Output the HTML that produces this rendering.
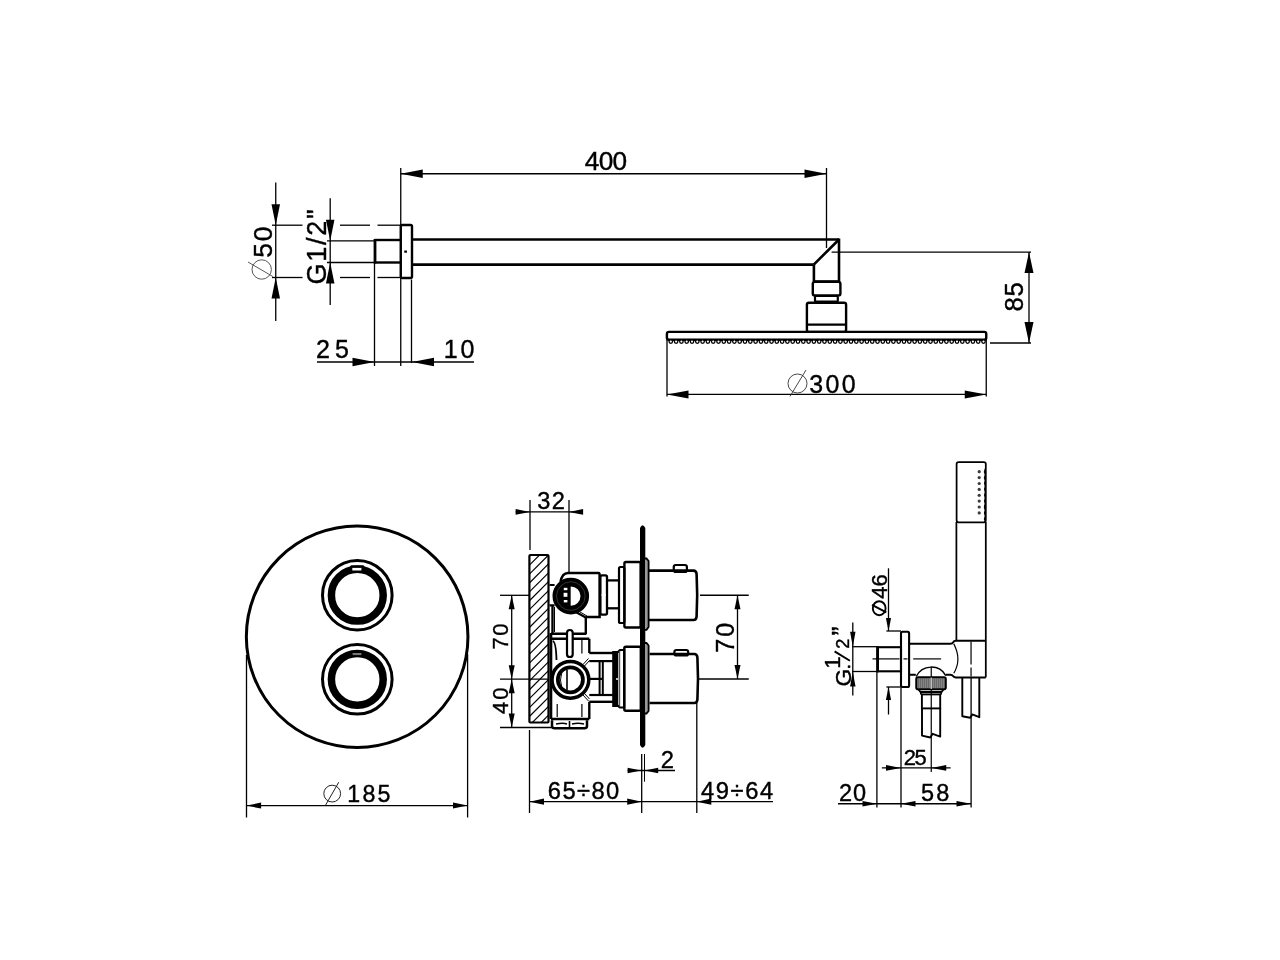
<!DOCTYPE html>
<html><head><meta charset="utf-8"><style>
html,body{margin:0;padding:0;background:#fff;}
svg{display:block;will-change:transform;}
text{font-family:"Liberation Sans", sans-serif;fill:#000;stroke:#000;stroke-width:0.4px;}
</style></head><body>
<svg width="1280" height="960" viewBox="0 0 1280 960" stroke="#000" fill="none">
<rect x="0" y="0" width="1280" height="960" fill="#fff" stroke="none"/>
<line x1="400.75" y1="173.75" x2="826.5" y2="173.75" stroke-width="1.3" />
<path d="M400.75 173.75 L422.75 169.50 L422.75 178.00 Z" fill="#000" stroke="none"/>
<path d="M826.50 173.75 L804.50 169.50 L804.50 178.00 Z" fill="#000" stroke="none"/>
<line x1="400.75" y1="168" x2="400.75" y2="366" stroke-width="1.3" />
<line x1="826.5" y1="168" x2="826.5" y2="248" stroke-width="1.3" />
<text x="0" y="0" font-size="26.23" letter-spacing="-0.70" transform="translate(584.82 169.52)" >400</text>
<rect x="400.75" y="225" width="11.25" height="53" rx="1.5" stroke-width="2.4" fill="none" />
<rect x="404.8" y="251" width="1.6" height="1.2" fill="#000"/>
<path d="M374.5 240 L400.75 240" stroke-width="2.4" fill="none" />
<path d="M374.5 262.5 L400.75 262.5" stroke-width="2.4" fill="none" />
<line x1="375" y1="239" x2="375" y2="263.5" stroke-width="2.8" />
<line x1="412" y1="239.5" x2="839" y2="239.5" stroke-width="2.6" />
<line x1="412" y1="264.6" x2="813.75" y2="264.6" stroke-width="2.6" />
<line x1="272" y1="225.2" x2="302.5" y2="225.2" stroke-width="1.3" />
<line x1="340" y1="225.2" x2="370" y2="225.2" stroke-width="1.3" />
<line x1="377.5" y1="225.2" x2="400" y2="225.2" stroke-width="1.3" />
<line x1="272" y1="277.5" x2="302.5" y2="277.5" stroke-width="1.3" />
<line x1="340" y1="277.5" x2="370" y2="277.5" stroke-width="1.3" />
<line x1="377.5" y1="277.5" x2="400" y2="277.5" stroke-width="1.3" />
<line x1="327" y1="240.8" x2="374" y2="240.8" stroke-width="1.3" />
<line x1="327" y1="262.5" x2="374" y2="262.5" stroke-width="1.3" />
<line x1="374.5" y1="263" x2="374.5" y2="366" stroke-width="1.3" />
<line x1="411.5" y1="279.5" x2="411.5" y2="363" stroke-width="1.3" />
<line x1="275.75" y1="182.5" x2="275.75" y2="321" stroke-width="1.3" />
<path d="M275.75 225.20 L271.50 204.20 L280.00 204.20 Z" fill="#000" stroke="none"/>
<path d="M275.75 277.50 L271.50 298.50 L280.00 298.50 Z" fill="#000" stroke="none"/>
<line x1="330.2" y1="198.3" x2="330.2" y2="305" stroke-width="1.3" />
<path d="M330.20 240.80 L325.95 219.80 L334.45 219.80 Z" fill="#000" stroke="none"/>
<path d="M330.20 262.50 L325.95 283.50 L334.45 283.50 Z" fill="#000" stroke="none"/>
<line x1="317" y1="362" x2="474" y2="362" stroke-width="1.3" />
<path d="M374.50 362.00 L352.50 357.75 L352.50 366.25 Z" fill="#000" stroke="none"/>
<path d="M412.00 362.00 L434.00 357.75 L434.00 366.25 Z" fill="#000" stroke="none"/>
<text x="0" y="0" font-size="25.02" letter-spacing="4.90" transform="translate(316.10 357.64)" >25</text>
<text x="0" y="0" font-size="25.02" letter-spacing="2.80" transform="translate(443.78 357.64)" >10</text>
<text x="0" y="0" font-size="26.48" letter-spacing="1.75" transform="translate(271.64 257.70) rotate(-90)" >50</text>
<ellipse cx="261.7" cy="269.5" rx="9.7" ry="9.7" stroke-width="0.9" stroke="#444" fill="none"/>
<line x1="248" y1="262" x2="272.8" y2="276.5" stroke-width="0.9" stroke="#444"/>
<text x="0" y="0" font-size="26.98" letter-spacing="1.75" transform="translate(326.46 284.50) rotate(-90)" >G1/2"</text>
<path d="M813.75 264.6 L839 239.5" stroke-width="2.6" fill="none" />
<line x1="839" y1="238.5" x2="839" y2="281.4" stroke-width="2.6" />
<line x1="813.9" y1="264.6" x2="813.9" y2="281.4" stroke-width="2.6" />
<line x1="813.9" y1="281.4" x2="839" y2="281.4" stroke-width="2.4" />
<rect x="812.8" y="281.9" width="27.600000000000023" height="13.5" rx="2" stroke-width="2.4" fill="none" />
<rect x="815" y="296" width="22.799999999999955" height="5.699999999999989" rx="1" stroke-width="2.2" fill="none" />
<rect x="806.9" y="302.7" width="39.200000000000045" height="29.19999999999999" rx="2" stroke-width="2.4" fill="none" />
<line x1="807" y1="324.6" x2="846" y2="324.6" stroke-width="2.4" />
<rect x="666.9" y="331.9" width="319.35" height="7.800000000000011" rx="2" stroke-width="2.4" fill="none" />
<circle cx="670.8" cy="341.6" r="1.75" stroke-width="1.3" fill="#fff"/><circle cx="676.1" cy="341.6" r="1.75" stroke-width="1.3" fill="#fff"/><circle cx="681.4" cy="341.6" r="1.75" stroke-width="1.3" fill="#fff"/><circle cx="686.7" cy="341.6" r="1.75" stroke-width="1.3" fill="#fff"/><circle cx="692.0" cy="341.6" r="1.75" stroke-width="1.3" fill="#fff"/><circle cx="697.3" cy="341.6" r="1.75" stroke-width="1.3" fill="#fff"/><circle cx="702.6" cy="341.6" r="1.75" stroke-width="1.3" fill="#fff"/><circle cx="707.9" cy="341.6" r="1.75" stroke-width="1.3" fill="#fff"/><circle cx="713.2" cy="341.6" r="1.75" stroke-width="1.3" fill="#fff"/><circle cx="718.5" cy="341.6" r="1.75" stroke-width="1.3" fill="#fff"/><circle cx="723.8" cy="341.6" r="1.75" stroke-width="1.3" fill="#fff"/><circle cx="729.1" cy="341.6" r="1.75" stroke-width="1.3" fill="#fff"/><circle cx="734.4" cy="341.6" r="1.75" stroke-width="1.3" fill="#fff"/><circle cx="739.7" cy="341.6" r="1.75" stroke-width="1.3" fill="#fff"/><circle cx="745.0" cy="341.6" r="1.75" stroke-width="1.3" fill="#fff"/><circle cx="750.3" cy="341.6" r="1.75" stroke-width="1.3" fill="#fff"/><circle cx="755.6" cy="341.6" r="1.75" stroke-width="1.3" fill="#fff"/><circle cx="760.9" cy="341.6" r="1.75" stroke-width="1.3" fill="#fff"/><circle cx="766.2" cy="341.6" r="1.75" stroke-width="1.3" fill="#fff"/><circle cx="771.5" cy="341.6" r="1.75" stroke-width="1.3" fill="#fff"/><circle cx="776.8" cy="341.6" r="1.75" stroke-width="1.3" fill="#fff"/><circle cx="782.1" cy="341.6" r="1.75" stroke-width="1.3" fill="#fff"/><circle cx="787.4" cy="341.6" r="1.75" stroke-width="1.3" fill="#fff"/><circle cx="792.7" cy="341.6" r="1.75" stroke-width="1.3" fill="#fff"/><circle cx="798.0" cy="341.6" r="1.75" stroke-width="1.3" fill="#fff"/><circle cx="803.3" cy="341.6" r="1.75" stroke-width="1.3" fill="#fff"/><circle cx="808.6" cy="341.6" r="1.75" stroke-width="1.3" fill="#fff"/><circle cx="813.9" cy="341.6" r="1.75" stroke-width="1.3" fill="#fff"/><circle cx="819.2" cy="341.6" r="1.75" stroke-width="1.3" fill="#fff"/><circle cx="824.5" cy="341.6" r="1.75" stroke-width="1.3" fill="#fff"/><circle cx="829.8" cy="341.6" r="1.75" stroke-width="1.3" fill="#fff"/><circle cx="835.1" cy="341.6" r="1.75" stroke-width="1.3" fill="#fff"/><circle cx="840.4" cy="341.6" r="1.75" stroke-width="1.3" fill="#fff"/><circle cx="845.7" cy="341.6" r="1.75" stroke-width="1.3" fill="#fff"/><circle cx="851.0" cy="341.6" r="1.75" stroke-width="1.3" fill="#fff"/><circle cx="856.3" cy="341.6" r="1.75" stroke-width="1.3" fill="#fff"/><circle cx="861.6" cy="341.6" r="1.75" stroke-width="1.3" fill="#fff"/><circle cx="866.9" cy="341.6" r="1.75" stroke-width="1.3" fill="#fff"/><circle cx="872.2" cy="341.6" r="1.75" stroke-width="1.3" fill="#fff"/><circle cx="877.5" cy="341.6" r="1.75" stroke-width="1.3" fill="#fff"/><circle cx="882.8" cy="341.6" r="1.75" stroke-width="1.3" fill="#fff"/><circle cx="888.1" cy="341.6" r="1.75" stroke-width="1.3" fill="#fff"/><circle cx="893.4" cy="341.6" r="1.75" stroke-width="1.3" fill="#fff"/><circle cx="898.7" cy="341.6" r="1.75" stroke-width="1.3" fill="#fff"/><circle cx="904.0" cy="341.6" r="1.75" stroke-width="1.3" fill="#fff"/><circle cx="909.3" cy="341.6" r="1.75" stroke-width="1.3" fill="#fff"/><circle cx="914.6" cy="341.6" r="1.75" stroke-width="1.3" fill="#fff"/><circle cx="919.9" cy="341.6" r="1.75" stroke-width="1.3" fill="#fff"/><circle cx="925.2" cy="341.6" r="1.75" stroke-width="1.3" fill="#fff"/><circle cx="930.5" cy="341.6" r="1.75" stroke-width="1.3" fill="#fff"/><circle cx="935.8" cy="341.6" r="1.75" stroke-width="1.3" fill="#fff"/><circle cx="941.1" cy="341.6" r="1.75" stroke-width="1.3" fill="#fff"/><circle cx="946.4" cy="341.6" r="1.75" stroke-width="1.3" fill="#fff"/><circle cx="951.7" cy="341.6" r="1.75" stroke-width="1.3" fill="#fff"/><circle cx="957.0" cy="341.6" r="1.75" stroke-width="1.3" fill="#fff"/><circle cx="962.3" cy="341.6" r="1.75" stroke-width="1.3" fill="#fff"/><circle cx="967.6" cy="341.6" r="1.75" stroke-width="1.3" fill="#fff"/><circle cx="972.9" cy="341.6" r="1.75" stroke-width="1.3" fill="#fff"/><circle cx="978.2" cy="341.6" r="1.75" stroke-width="1.3" fill="#fff"/><circle cx="983.5" cy="341.6" r="1.75" stroke-width="1.3" fill="#fff"/>
<line x1="831.6" y1="252.1" x2="1031" y2="252.1" stroke-width="1.3" />
<line x1="990" y1="343" x2="1031" y2="343" stroke-width="1.3" />
<line x1="1029" y1="252.1" x2="1029" y2="343" stroke-width="1.3" />
<path d="M1029.00 252.10 L1024.50 273.10 L1033.50 273.10 Z" fill="#000" stroke="none"/>
<path d="M1029.00 343.00 L1024.50 322.00 L1033.50 322.00 Z" fill="#000" stroke="none"/>
<text x="0" y="0" font-size="25.69" letter-spacing="0.70" transform="translate(1023.29 311.60) rotate(-90)" >85</text>
<line x1="667" y1="340" x2="667" y2="396.4" stroke-width="1.3" />
<line x1="986.25" y1="340" x2="986.25" y2="396.4" stroke-width="1.3" />
<line x1="667" y1="394.4" x2="986.25" y2="394.4" stroke-width="1.3" />
<path d="M667.00 394.40 L688.50 390.40 L688.50 398.40 Z" fill="#000" stroke="none"/>
<path d="M986.25 394.40 L964.75 390.40 L964.75 398.40 Z" fill="#000" stroke="none"/>
<ellipse cx="797.5" cy="383.5" rx="9.5" ry="9.5" stroke-width="0.9" stroke="#333" fill="none"/>
<line x1="806" y1="370" x2="790" y2="396.4" stroke-width="0.9" stroke="#333"/>
<text x="0" y="0" font-size="24.94" letter-spacing="2.45" transform="translate(809.14 392.68)" >300</text>
<circle cx="357.15" cy="636.7" r="110.8" stroke-width="3" fill="none"/>
<circle cx="357.3" cy="595.2" r="34.8" stroke-width="3" fill="none"/>
<circle cx="357.3" cy="595.2" r="25.9" stroke-width="7.5" fill="none"/>
<circle cx="357.3" cy="679.3" r="34.8" stroke-width="3" fill="none"/>
<circle cx="357.3" cy="679.3" r="25.9" stroke-width="7.5" fill="none"/>
<path d="M349.5 567.5 L351 565.2 L363.5 565.2 L365 567.5 Z" fill="#000" stroke="none"/>
<rect x="352.3" y="567.9" width="9.1" height="2.6" fill="#fff" stroke="none"/>
<rect x="352.6" y="653" width="8.8" height="2.1" fill="#777" stroke="none"/>
<line x1="246.5" y1="655" x2="246.5" y2="817.5" stroke-width="1.3" />
<line x1="467.6" y1="654" x2="467.6" y2="817.5" stroke-width="1.3" />
<line x1="246.5" y1="805.6" x2="467.6" y2="805.6" stroke-width="1.3" />
<path d="M246.50 805.60 L261.10 802.60 L261.10 808.60 Z" fill="#000" stroke="none"/>
<path d="M467.60 805.60 L453.00 802.60 L453.00 808.60 Z" fill="#000" stroke="none"/>
<ellipse cx="332.2" cy="793.6" rx="8.4" ry="8.4" stroke-width="1.0" stroke="#222" fill="none"/>
<line x1="338.75" y1="782.2" x2="325.3" y2="805.6" stroke-width="1.0" stroke="#222"/>
<text x="0" y="0" font-size="23.20" letter-spacing="2.28" transform="translate(347.21 801.94)" >185</text>
<line x1="515.6" y1="511.9" x2="583" y2="511.9" stroke-width="1.3" />
<path d="M530.00 511.90 L515.60 509.10 L515.60 514.70 Z" fill="#000" stroke="none"/>
<path d="M568.75 511.90 L583.15 509.10 L583.15 514.70 Z" fill="#000" stroke="none"/>
<line x1="530" y1="500" x2="530" y2="550" stroke-width="1.3" />
<line x1="569" y1="500" x2="569" y2="572" stroke-width="1.3" />
<text x="0" y="0" font-size="23.60" letter-spacing="1.40" transform="translate(537.30 508.69)" >32</text>
<clipPath id="hb"><rect x="529.4" y="555" width="19.1" height="167.5"/></clipPath>
<g clip-path="url(#hb)"><line x1="529.4" y1="547.4" x2="548.5" y2="528.3" stroke-width="1.2"/><line x1="529.4" y1="556.3" x2="548.5" y2="537.2" stroke-width="1.2"/><line x1="529.4" y1="565.2" x2="548.5" y2="546.1" stroke-width="1.2"/><line x1="529.4" y1="574.1" x2="548.5" y2="555.0" stroke-width="1.2"/><line x1="529.4" y1="583.0" x2="548.5" y2="563.9" stroke-width="1.2"/><line x1="529.4" y1="591.9" x2="548.5" y2="572.8" stroke-width="1.2"/><line x1="529.4" y1="600.8" x2="548.5" y2="581.7" stroke-width="1.2"/><line x1="529.4" y1="609.7" x2="548.5" y2="590.6" stroke-width="1.2"/><line x1="529.4" y1="618.6" x2="548.5" y2="599.5" stroke-width="1.2"/><line x1="529.4" y1="627.5" x2="548.5" y2="608.4" stroke-width="1.2"/><line x1="529.4" y1="636.4" x2="548.5" y2="617.3" stroke-width="1.2"/><line x1="529.4" y1="645.3" x2="548.5" y2="626.2" stroke-width="1.2"/><line x1="529.4" y1="654.2" x2="548.5" y2="635.1" stroke-width="1.2"/><line x1="529.4" y1="663.1" x2="548.5" y2="644.0" stroke-width="1.2"/><line x1="529.4" y1="672.0" x2="548.5" y2="652.9" stroke-width="1.2"/><line x1="529.4" y1="680.9" x2="548.5" y2="661.8" stroke-width="1.2"/><line x1="529.4" y1="689.8" x2="548.5" y2="670.7" stroke-width="1.2"/><line x1="529.4" y1="698.7" x2="548.5" y2="679.6" stroke-width="1.2"/><line x1="529.4" y1="707.6" x2="548.5" y2="688.5" stroke-width="1.2"/><line x1="529.4" y1="716.5" x2="548.5" y2="697.4" stroke-width="1.2"/><line x1="529.4" y1="725.4" x2="548.5" y2="706.3" stroke-width="1.2"/><line x1="529.4" y1="734.3" x2="548.5" y2="715.2" stroke-width="1.2"/><line x1="529.4" y1="743.2" x2="548.5" y2="724.1" stroke-width="1.2"/><line x1="529.4" y1="752.1" x2="548.5" y2="733.0" stroke-width="1.2"/><line x1="529.4" y1="761.0" x2="548.5" y2="741.9" stroke-width="1.2"/></g>
<rect x="529.4" y="555" width="19.100000000000023" height="167.5" rx="1" stroke-width="2.2" fill="none" />
<path d="M640 528 Q642.6 522.5 645.3 528 L645.3 745 Q642.6 750.5 640 745 Z" fill="#000" stroke="none"/>
<path d="M645 558.5 L646.5 558.5 L648.6 561 L648.6 627 L646.5 629.8 L645 629.8" stroke-width="1.8" fill="#999"/>
<path d="M645 643 L646.5 643 L648.6 645.5 L648.6 711 L646.5 713.5 L645 713.5" stroke-width="1.8" fill="#999"/>
<path d="M560.5 582 Q562 573 568 572.9 L598.75 572.9 Q599.6 573 599.6 575 L599.6 617 L585.8 617" stroke-width="2.5" fill="none"/>
<line x1="575.8" y1="612" x2="585.8" y2="617.5" stroke-width="2.2" />
<line x1="577.5" y1="610.5" x2="587" y2="616" stroke-width="1.0" />
<line x1="585.8" y1="617" x2="585.8" y2="634" stroke-width="2.4" />
<line x1="552.5" y1="605.5" x2="552.5" y2="634" stroke-width="2.4" />
<line x1="554.5" y1="607" x2="554.5" y2="632" stroke-width="1.0" />
<path d="M554.6 585 L549.5 585 M549.5 605.4 L554.6 605.4" stroke-width="2.2"/>
<path d="M556 587 Q551 595.2 556 603.5" stroke-width="1.2" fill="none"/>
<circle cx="570.8" cy="596.1" r="14.0" stroke-width="8.6" fill="none"/>
<circle cx="570.8" cy="596.1" r="14.3" stroke-width="0.6" stroke="#555" fill="none"/>
<path d="M570.2 586 A10.1 10.1 0 0 0 570.2 606.2 Z" fill="#000" stroke="none"/>
<rect x="563.8" y="587.8" width="3.6" height="2.4" fill="#fff" stroke="none"/>
<rect x="563.6" y="592.8" width="3.8" height="4" fill="#fff" stroke="none"/>
<rect x="563.8" y="600" width="3.6" height="2.4" fill="#fff" stroke="none"/>
<line x1="569.6" y1="585" x2="569.6" y2="606" stroke-width="2" />
<rect x="600.4" y="575.4" width="6.600000000000023" height="39.200000000000045" rx="1.5" stroke-width="2.3" fill="none" />
<rect x="601.5" y="594.3" width="4.4" height="1.5" fill="#fff" stroke="none"/>
<line x1="607" y1="580.4" x2="618.5" y2="580.4" stroke-width="2.3" />
<line x1="607" y1="608.3" x2="618.5" y2="608.3" stroke-width="2.3" />
<rect x="619" y="567" width="5.399999999999977" height="56" rx="1.5" stroke-width="2.2" fill="none" />
<rect x="624.4" y="562" width="16.200000000000045" height="65.5" rx="1.5" stroke-width="2.4" fill="none" />
<path d="M648.75 570.6 L693.5 570.6 Q696.25 570.6 696.6 574 Q697.8 595.3 696.6 616.6 Q696.25 620 693.5 620 L648.75 620" stroke-width="2.6" fill="none"/>
<rect x="673.75" y="565" width="13.149999999999977" height="7" rx="2" stroke-width="2.2" fill="none" />
<line x1="675" y1="572" x2="686" y2="572" stroke-width="1.6" />
<line x1="550.9" y1="633.8" x2="586.4" y2="633.8" stroke-width="2.4" />
<line x1="550.9" y1="638.8" x2="589.3" y2="638.8" stroke-width="2.6" />
<line x1="589.3" y1="638.8" x2="589.3" y2="653" stroke-width="2.4" />
<line x1="589.3" y1="701.8" x2="589.3" y2="719" stroke-width="2.4" />
<line x1="550.9" y1="633" x2="550.9" y2="719" stroke-width="2.8" />
<line x1="550.9" y1="719" x2="589.3" y2="719" stroke-width="2.6" />
<path d="M552.8 641 Q556 642 556.5 660" stroke-width="1.8" fill="none"/>
<line x1="581.9" y1="640" x2="581.9" y2="653.5" stroke-width="1.2" />
<line x1="557.2" y1="704" x2="557.2" y2="717" stroke-width="1.2" />
<line x1="581.9" y1="704" x2="581.9" y2="717" stroke-width="1.2" />
<rect x="567" y="630" width="5.7000000000000455" height="27" rx="2.8" stroke-width="2.2" fill="#fff" />
<circle cx="570.4" cy="679.8" r="18.4" stroke-width="3.5" fill="#fff"/>
<circle cx="570.4" cy="679.8" r="12.5" stroke-width="3.8" fill="none"/>
<line x1="567" y1="669.5" x2="567" y2="690" stroke-width="1.6" />
<path d="M562 671 Q559 680 562 689" stroke-width="1" fill="none"/>
<line x1="584.5" y1="666" x2="589.5" y2="660.5" stroke-width="1.0" />
<line x1="583" y1="664.5" x2="588.5" y2="658.5" stroke-width="1.0" />
<line x1="584.5" y1="693.5" x2="589.5" y2="699" stroke-width="1.0" />
<line x1="583" y1="695" x2="588.5" y2="701" stroke-width="1.0" />
<line x1="589.3" y1="653" x2="613.4" y2="653" stroke-width="2.4" />
<line x1="589.3" y1="661.1" x2="613.4" y2="661.1" stroke-width="2.2" />
<line x1="589.3" y1="695" x2="613.4" y2="695" stroke-width="2.2" />
<line x1="589.3" y1="701.8" x2="613.4" y2="701.8" stroke-width="2.4" />
<line x1="599.6" y1="662" x2="599.6" y2="694" stroke-width="2.0" />
<line x1="602.8" y1="662" x2="602.8" y2="694" stroke-width="2.0" />
<line x1="590" y1="678.9" x2="602.5" y2="678.9" stroke-width="2.2" />
<path d="M613.3 652 L618 652 L620 650 L624.2 650 L624.2 707.5 L620 707.5 L618 705.8 L613.3 705.8 Z" fill="#fff" stroke="#000" stroke-width="2.2"/>
<rect x="613.3" y="652" width="5" height="53.8" fill="#000" stroke="none"/>
<line x1="619.6" y1="651" x2="619.6" y2="706.5" stroke-width="1.2" stroke="#555"/>
<circle cx="617" cy="679" r="1.0" fill="#fff" stroke="none"/>
<rect x="624.3" y="646.8" width="16.5" height="64.0" rx="1.5" stroke-width="2.4" fill="none" />
<path d="M649.6 654 L694.3 654 Q697 654 697.4 657.4 Q698.6 678.5 697.4 699.6 Q697 703 694.3 703 L649.6 703" stroke-width="2.6" fill="none"/>
<rect x="674.4" y="650" width="13.800000000000068" height="5.5" rx="2" stroke-width="2.2" fill="none" />
<path d="M552 720.2 L552 726 Q552 728.2 554.5 728.2 L584.5 728.2 Q587 728.2 587 726 L587 720.2" stroke-width="2.5" fill="none"/>
<path d="M556 724 Q563 722.5 567 724 M572 724 Q578 722.5 584 724" stroke-width="1.6" fill="none"/>
<line x1="569.5" y1="721" x2="569.5" y2="728" stroke-width="1.6" />
<line x1="511.7" y1="595.3" x2="511.7" y2="727.5" stroke-width="1.3" />
<line x1="500" y1="595.3" x2="530" y2="595.3" stroke-width="1.3" />
<line x1="500" y1="679.2" x2="548" y2="679.2" stroke-width="1.3" />
<line x1="500" y1="727.5" x2="553" y2="727.5" stroke-width="1.3" />
<path d="M511.70 595.30 L508.70 609.30 L514.70 609.30 Z" fill="#000" stroke="none"/>
<path d="M511.70 679.20 L508.70 665.20 L514.70 665.20 Z" fill="#000" stroke="none"/>
<path d="M511.70 679.20 L508.70 693.20 L514.70 693.20 Z" fill="#000" stroke="none"/>
<path d="M511.70 727.50 L508.70 713.50 L514.70 713.50 Z" fill="#000" stroke="none"/>
<text x="0" y="0" font-size="21.99" letter-spacing="1.40" transform="translate(507.50 649.50) rotate(-90)" >70</text>
<text x="0" y="0" font-size="21.99" letter-spacing="2.10" transform="translate(507.50 714.06) rotate(-90)" >40</text>
<line x1="737.5" y1="595.25" x2="737.5" y2="679" stroke-width="1.3" />
<line x1="700" y1="595.25" x2="748.75" y2="595.25" stroke-width="1.3" />
<line x1="698" y1="679" x2="748.75" y2="679" stroke-width="1.3" />
<path d="M737.50 595.25 L734.50 609.25 L740.50 609.25 Z" fill="#000" stroke="none"/>
<path d="M737.50 679.00 L734.50 665.00 L740.50 665.00 Z" fill="#000" stroke="none"/>
<text x="0" y="0" font-size="25.14" letter-spacing="2.10" transform="translate(733.88 652.78) rotate(-90)" >70</text>
<line x1="529.5" y1="730" x2="529.5" y2="813" stroke-width="1.3" />
<line x1="641.7" y1="754" x2="641.7" y2="813" stroke-width="1.3" />
<line x1="696.8" y1="703" x2="696.8" y2="813" stroke-width="1.3" />
<line x1="529.5" y1="801.7" x2="773" y2="801.7" stroke-width="1.3" />
<path d="M529.50 801.70 L544.00 798.55 L544.00 804.85 Z" fill="#000" stroke="none"/>
<path d="M641.70 801.70 L627.20 798.55 L627.20 804.85 Z" fill="#000" stroke="none"/>
<path d="M696.80 801.70 L711.30 798.55 L711.30 804.85 Z" fill="#000" stroke="none"/>
<line x1="644.5" y1="754" x2="644.5" y2="781.7" stroke-width="1.0" />
<line x1="627.6" y1="770.5" x2="675" y2="770.5" stroke-width="1.3" />
<path d="M641.30 770.50 L627.60 767.70 L627.60 773.30 Z" fill="#000" stroke="none"/>
<path d="M644.50 770.50 L658.20 767.70 L658.20 773.30 Z" fill="#000" stroke="none"/>
<text x="0" y="0" font-size="23.74" transform="translate(660.68 768.00)" >2</text>
<text x="0" y="0" font-size="23.74" letter-spacing="1.40" transform="translate(547.86 799.04)" >65&#247;80</text>
<text x="0" y="0" font-size="23.74" letter-spacing="1.58" transform="translate(701.00 799.04)" >49&#247;64</text>
<rect x="956.6" y="462" width="29.199999999999932" height="60.299999999999955" rx="2" stroke-width="1.75" fill="none" />
<line x1="956.4" y1="522" x2="956.4" y2="641" stroke-width="1.75" />
<line x1="985.8" y1="522" x2="985.8" y2="677.4" stroke-width="1.75" />
<circle cx="979.2" cy="471.7" r="1.6" fill="#3a3a3a" stroke="none"/><circle cx="979.2" cy="477.6" r="1.6" fill="#3a3a3a" stroke="none"/><circle cx="979.2" cy="483.5" r="1.6" fill="#3a3a3a" stroke="none"/><circle cx="979.2" cy="489.4" r="1.6" fill="#3a3a3a" stroke="none"/><circle cx="979.2" cy="495.3" r="1.6" fill="#3a3a3a" stroke="none"/><circle cx="979.2" cy="501.1" r="1.6" fill="#3a3a3a" stroke="none"/><circle cx="979.2" cy="507.0" r="1.6" fill="#3a3a3a" stroke="none"/><circle cx="979.2" cy="512.9" r="1.6" fill="#3a3a3a" stroke="none"/>
<path d="M985.2 468.8 q-1.6 2.9 0 5.8" stroke-width="1.1" fill="none"/><path d="M985.2 474.7 q-1.6 2.9 0 5.8" stroke-width="1.1" fill="none"/><path d="M985.2 480.6 q-1.6 2.9 0 5.8" stroke-width="1.1" fill="none"/><path d="M985.2 486.5 q-1.6 2.9 0 5.8" stroke-width="1.1" fill="none"/><path d="M985.2 492.4 q-1.6 2.9 0 5.8" stroke-width="1.1" fill="none"/><path d="M985.2 498.2 q-1.6 2.9 0 5.8" stroke-width="1.1" fill="none"/><path d="M985.2 504.1 q-1.6 2.9 0 5.8" stroke-width="1.1" fill="none"/><path d="M985.2 510.0 q-1.6 2.9 0 5.8" stroke-width="1.1" fill="none"/><path d="M985.2 515.9 q-1.6 2.9 0 5.8" stroke-width="1.1" fill="none"/>
<path d="M909.1 643.7 L950.5 643.7 Q952.5 643.7 953.2 642.3 Q954 640.8 955.8 640.8 L985.8 640.8" stroke-width="2" fill="none"/>
<path d="M909.1 674.8 L915.8 674.8 M945.9 674.8 L950.3 674.8 Q952.2 674.8 953 676.1 Q953.8 677.4 955.6 677.4 L985.8 677.4" stroke-width="2" fill="none"/>
<path d="M953.8 643.9 Q962 659.6 953.8 673.3" stroke-width="1.2" fill="none"/>
<line x1="971.05" y1="641.5" x2="971.05" y2="664.5" stroke-width="1.2" />
<line x1="971.05" y1="667.5" x2="971.05" y2="676.5" stroke-width="1.2" />
<path d="M962.3 677.4 L962.3 716.3 L970.2 717.8 L972.3 714.4 L979.3 717.2 L979.3 677.4" stroke-width="1.9" fill="none" stroke-linejoin="round"/>
<line x1="971.1" y1="677.4" x2="971.1" y2="807.5" stroke-width="1.3" />
<path d="M916.25 676.5 A16.7 16.7 0 0 1 945.8 675.6" stroke-width="1.5" fill="none"/>
<line x1="931.25" y1="667" x2="931.25" y2="772" stroke-width="1.2" />
<rect x="916.25" y="677.2" width="29.55" height="12" rx="1.8" fill="#9a9a9a" stroke="#000" stroke-width="2"/>
<line x1="918.2" y1="678.3" x2="918.2" y2="688" stroke="#444" stroke-width="0.8"/><line x1="920.2" y1="678.3" x2="920.2" y2="688" stroke="#444" stroke-width="0.8"/><line x1="922.2" y1="678.3" x2="922.2" y2="688" stroke="#444" stroke-width="0.8"/><line x1="924.2" y1="678.3" x2="924.2" y2="688" stroke="#444" stroke-width="0.8"/><line x1="926.2" y1="678.3" x2="926.2" y2="688" stroke="#444" stroke-width="0.8"/><line x1="928.2" y1="678.3" x2="928.2" y2="688" stroke="#444" stroke-width="0.8"/><line x1="930.2" y1="678.3" x2="930.2" y2="688" stroke="#444" stroke-width="0.8"/><line x1="932.2" y1="678.3" x2="932.2" y2="688" stroke="#444" stroke-width="0.8"/><line x1="934.2" y1="678.3" x2="934.2" y2="688" stroke="#444" stroke-width="0.8"/><line x1="936.2" y1="678.3" x2="936.2" y2="688" stroke="#444" stroke-width="0.8"/><line x1="938.2" y1="678.3" x2="938.2" y2="688" stroke="#444" stroke-width="0.8"/><line x1="940.2" y1="678.3" x2="940.2" y2="688" stroke="#444" stroke-width="0.8"/><line x1="942.2" y1="678.3" x2="942.2" y2="688" stroke="#444" stroke-width="0.8"/><line x1="944.2" y1="678.3" x2="944.2" y2="688" stroke="#444" stroke-width="0.8"/>
<line x1="931.25" y1="677.5" x2="931.25" y2="689" stroke-width="1.2" stroke="#ccc"/>
<path d="M918.5 689.4 L920.5 692 L941.5 692 L943.5 689.4" stroke-width="1.8" fill="none"/>
<line x1="920.8" y1="692" x2="920.8" y2="694.4" stroke-width="1.6" />
<line x1="941.2" y1="692" x2="941.2" y2="694.4" stroke-width="1.6" />
<rect x="921.9" y="694.4" width="18.300000000000068" height="14.0" rx="0" stroke-width="1.9" fill="none" />
<path d="M922 708.4 L922 735.6 L930.3 737.5 L932.7 733.8 L940.2 736.6 L940.2 708.4" stroke-width="1.9" fill="none" stroke-linejoin="round"/>
<rect x="901" y="631.7" width="8.100000000000023" height="55.299999999999955" rx="1.5" stroke-width="2.1" fill="none" />
<rect x="877.6" y="647.2" width="23.399999999999977" height="24.09999999999991" rx="0" stroke-width="2.1" fill="none" />
<line x1="877.6" y1="646.2" x2="877.6" y2="672.3" stroke-width="2.8" />
<line x1="872.5" y1="658.9" x2="899.5" y2="658.9" stroke-width="1.2" />
<line x1="903.5" y1="658.9" x2="907.5" y2="658.9" stroke-width="1.2" />
<line x1="913.2" y1="658.9" x2="941.1" y2="658.9" stroke-width="1.2" />
<line x1="888.5" y1="568.3" x2="888.5" y2="631" stroke-width="1.3" />
<path d="M888.50 631.00 L885.90 618.00 L891.10 618.00 Z" fill="#000" stroke="none"/>
<line x1="886.4" y1="631" x2="901" y2="631" stroke-width="1.3" />
<line x1="888.5" y1="687" x2="888.5" y2="714.5" stroke-width="1.3" />
<path d="M888.50 687.00 L885.90 700.00 L891.10 700.00 Z" fill="#000" stroke="none"/>
<line x1="886.4" y1="687" x2="901" y2="687" stroke-width="1.3" />
<text x="0" y="0" font-size="22.14" transform="translate(886.50 598.80) rotate(-90)" >46</text>
<ellipse cx="879.2" cy="608.2" rx="6.4" ry="7.0" stroke-width="1.9" stroke="#000" fill="none"/>
<line x1="872" y1="604.8" x2="886.3" y2="612.4" stroke-width="1.9" stroke="#000"/>
<line x1="852.8" y1="622.6" x2="852.8" y2="695.5" stroke-width="1.3" />
<path d="M852.80 646.70 L850.10 631.70 L855.50 631.70 Z" fill="#000" stroke="none"/>
<path d="M852.80 671.50 L850.10 686.50 L855.50 686.50 Z" fill="#000" stroke="none"/>
<line x1="852" y1="646.7" x2="877" y2="646.7" stroke-width="1.3" />
<line x1="852" y1="671.5" x2="877" y2="671.5" stroke-width="1.3" />
<text x="0" y="0" font-size="22.78" transform="translate(850.80 686.60) rotate(-90)" >G</text>
<text x="0" y="0" font-size="22.08" transform="translate(840.00 668.80) rotate(-90)" >1</text>
<text x="0" y="0" font-size="18.14" transform="translate(849.20 648.80) rotate(-90)" >2</text>
<text x="0" y="0" font-size="27.00" transform="translate(850.80 635.40) rotate(-90)" >&#8221;</text>
<line x1="834.6" y1="651.4" x2="849.9" y2="660.8" stroke-width="1.9" />
<rect x="847.8" y="665.4" width="2.5" height="2.5" fill="#000" stroke="none"/>
<line x1="876.9" y1="672" x2="876.9" y2="807.5" stroke-width="1.3" />
<line x1="901" y1="688" x2="901" y2="807.5" stroke-width="1.3" />
<line x1="881.9" y1="767.9" x2="950.6" y2="767.9" stroke-width="1.3" />
<path d="M901.00 767.90 L886.00 765.10 L886.00 770.70 Z" fill="#000" stroke="none"/>
<path d="M931.25 767.90 L946.25 765.10 L946.25 770.70 Z" fill="#000" stroke="none"/>
<text x="0" y="0" font-size="21.96" letter-spacing="-1.40" transform="translate(903.80 765.24)" >25</text>
<line x1="838" y1="803.75" x2="971" y2="803.75" stroke-width="1.3" />
<path d="M877.00 803.75 L862.50 800.95 L862.50 806.55 Z" fill="#000" stroke="none"/>
<path d="M901.00 803.75 L915.50 800.95 L915.50 806.55 Z" fill="#000" stroke="none"/>
<path d="M971.00 803.75 L956.50 800.95 L956.50 806.55 Z" fill="#000" stroke="none"/>
<text x="0" y="0" font-size="23.50" letter-spacing="1.05" transform="translate(838.90 801.11)" >20</text>
<text x="0" y="0" font-size="23.50" letter-spacing="2.10" transform="translate(920.98 801.11)" >58</text>
</svg>
</body></html>
